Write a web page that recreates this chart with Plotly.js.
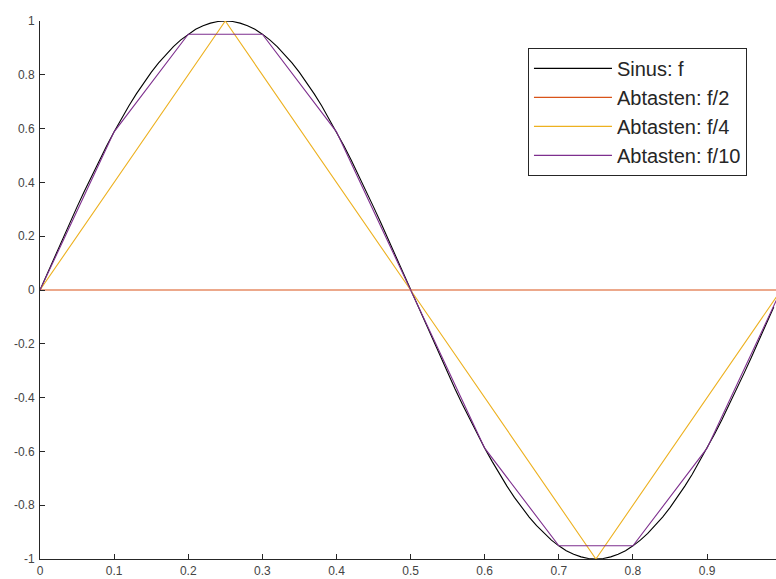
<!DOCTYPE html>
<html><head><meta charset="utf-8">
<script src="https://cdn.plot.ly/plotly-3.0.1.min.js"></script>
<style>html,body{margin:0;padding:0;background:#fff}#chart{width:776px;height:579px}</style>
</head><body><div id="chart"></div>
<script>
// Sine f, sampled at 0.01 steps starting at 0
const sineStart = 0;
const sineStep = 0.01;
const sineY = [
 0, 0.063, 0.125, 0.187, 0.249, 0.309, 0.368, 0.426, 0.482, 0.536,
 0.588, 0.637, 0.685, 0.729, 0.771, 0.809, 0.844, 0.876, 0.905, 0.930,
 0.951, 0.969, 0.982, 0.992, 0.998, 1.000, 0.998, 0.992, 0.982, 0.969,
 0.951, 0.930, 0.905, 0.876, 0.844, 0.809, 0.771, 0.729, 0.685, 0.637,
 0.588, 0.536, 0.482, 0.426, 0.368, 0.309, 0.249, 0.187, 0.125, 0.063,
 0, -0.063, -0.125, -0.187, -0.249, -0.309, -0.368, -0.426, -0.482, -0.536,
 -0.588, -0.637, -0.685, -0.729, -0.771, -0.809, -0.844, -0.876, -0.905, -0.930,
 -0.951, -0.969, -0.982, -0.992, -0.998, -1.000, -0.998, -0.992, -0.982, -0.969,
 -0.951, -0.930, -0.905, -0.876, -0.844, -0.809, -0.771, -0.729, -0.685, -0.637,
 -0.588, -0.536, -0.482, -0.426, -0.368, -0.309, -0.249, -0.187, -0.125, -0.063
];
const f2X = [0, 0.5, 1];
const f2Y = [0, 0, 0];
const f4X = [0, 0.25, 0.5, 0.75, 1];
const f4Y = [0, 1, 0, -1, 0];
const f10X = [0, 0.1, 0.2, 0.3, 0.4, 0.5, 0.6, 0.7, 0.8, 0.9, 1.0];
const f10Y = [0, 0.588, 0.951, 0.951, 0.588, 0, -0.588, -0.951, -0.951, -0.588, 0];
const names = ['Sinus: f', 'Abtasten: f/2', 'Abtasten: f/4', 'Abtasten: f/10'];
const colors = ['#000000', '#D95319', '#EDB120', '#7E2F8E'];
const xTicks = [0, 0.1, 0.2, 0.3, 0.4, 0.5, 0.6, 0.7, 0.8, 0.9];
const yTicks = [-1, -0.8, -0.6, -0.4, -0.2, 0, 0.2, 0.4, 0.6, 0.8, 1];

const traces = [
 {type:'scatter', mode:'lines', name:names[0], x0:sineStart, dx:sineStep, y:sineY, line:{color:colors[0], width:1.1}},
 {type:'scatter', mode:'lines', name:names[1], x:f2X, y:f2Y, line:{color:colors[1], width:1.1}},
 {type:'scatter', mode:'lines', name:names[2], x:f4X, y:f4Y, line:{color:colors[2], width:1.1}},
 {type:'scatter', mode:'lines', name:names[3], x:f10X, y:f10Y, line:{color:colors[3], width:1.1}}
];
const axisCommon = {
 showgrid:false, zeroline:false, showline:true, linecolor:'#262626', linewidth:1,
 ticks:'inside', ticklen:5, tickcolor:'#262626', tickwidth:1,
 tickfont:{family:'Liberation Sans, Arial, sans-serif', size:12, color:'#444444'}
};
const layout = {
 width:776, height:579,
 margin:{l:40, r:0, t:21, b:20},
 paper_bgcolor:'#ffffff', plot_bgcolor:'#ffffff',
 showlegend:true,
 xaxis:Object.assign({}, axisCommon, {range:[0, 0.993], tickvals:xTicks, ticktext:xTicks.map(String), ticklabelstandoff:1}),
 yaxis:Object.assign({}, axisCommon, {range:[-1, 1], tickvals:yTicks, ticktext:yTicks.map(String), ticklabelstandoff:2}),
 legend:{x:0.663, y:0.95, xanchor:'left', yanchor:'top', bgcolor:'#ffffff', bordercolor:'#262626', borderwidth:1,
   itemwidth:78, font:{family:'Liberation Sans, Arial, sans-serif', size:20, color:'#262626'}, tracegroupgap:0},
 hovermode:false
};
Plotly.newPlot('chart', traces, layout, {displayModeBar:false, staticPlot:true});
</script></body></html>
